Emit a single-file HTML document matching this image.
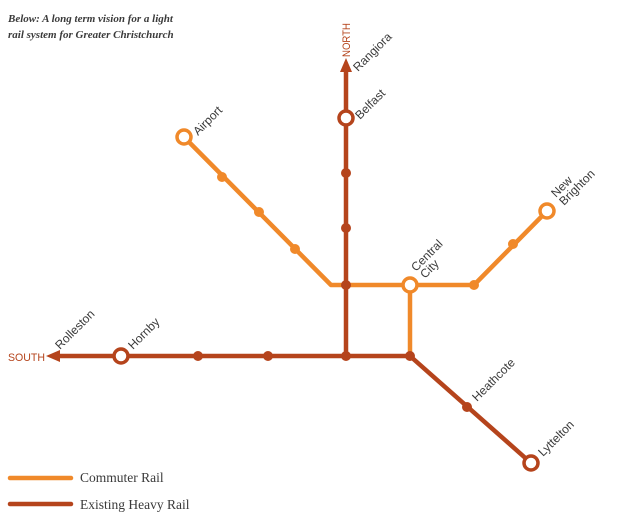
<!DOCTYPE html>
<html><head><meta charset="utf-8"><style>
body{margin:0;background:#fff;}
svg{display:block;}
text{font-family:"Liberation Sans",sans-serif;font-size:12px;fill:#3a3a3a;}
</style></head><body>
<svg width="624" height="519" viewBox="0 0 624 519">
<text x="8" y="22" style="font-family:'Liberation Serif',serif;font-style:italic;font-size:11px;font-weight:bold" fill="#555">Below: A long term vision for a light</text>
<text x="8" y="38" style="font-family:'Liberation Serif',serif;font-style:italic;font-size:11px;font-weight:bold" fill="#555">rail system for Greater Christchurch</text>
<g stroke="#f0892a" stroke-width="4.5" fill="none" stroke-linejoin="round">
<polyline points="184,137 331,285 474,285 547,211"/>
<line x1="410" y1="285" x2="410" y2="356"/>
</g>
<g stroke="#b5441c" stroke-width="4.5" fill="none">
<line x1="346" y1="70" x2="346" y2="356"/>
<line x1="56" y1="356" x2="410" y2="356"/>
<polyline points="410,356 531,463"/>
</g>
<polygon points="346,58 340,72 352,72" fill="#b5441c"/>
<polygon points="46,356 60,350 60,362" fill="#b5441c"/>
<g fill="#f0892a">
<circle cx="222" cy="177" r="5"/><circle cx="259" cy="212" r="5"/><circle cx="295" cy="249" r="5"/>
<circle cx="474" cy="285" r="5"/><circle cx="513" cy="244" r="5"/>
</g>
<g fill="#b5441c">
<circle cx="346" cy="173" r="5"/><circle cx="346" cy="228" r="5"/><circle cx="346" cy="285" r="5"/><circle cx="346" cy="356" r="5"/>
<circle cx="198" cy="356" r="5"/><circle cx="268" cy="356" r="5"/><circle cx="410" cy="356" r="5"/><circle cx="467" cy="407" r="5"/>
</g>
<g fill="#fff" stroke-width="3.5">
<circle cx="184" cy="137" r="7" stroke="#f0892a"/>
<circle cx="410" cy="285" r="7" stroke="#f0892a"/>
<circle cx="547" cy="211" r="7" stroke="#f0892a"/>
<circle cx="346" cy="118" r="7" stroke="#b5441c"/>
<circle cx="121" cy="356" r="7" stroke="#b5441c"/>
<circle cx="531" cy="463" r="7" stroke="#b5441c"/>
</g>
<text transform="translate(198,136) rotate(-45)">Airport</text>
<text transform="translate(358,72) rotate(-45)">Rangiora</text>
<text transform="translate(350,57) rotate(-90)" style="fill:#b5441c;font-size:11px" textLength="34" lengthAdjust="spacingAndGlyphs">NORTH</text>
<text transform="translate(360,120) rotate(-45)">Belfast</text>
<text transform="translate(416,272) rotate(-45)">Central</text>
<text transform="translate(425,279) rotate(-45)">City</text>
<text transform="translate(556,198) rotate(-45)">New</text>
<text transform="translate(564,206) rotate(-45)">Brighton</text>
<text transform="translate(60,350) rotate(-45)">Rolleston</text>
<text x="8" y="361" style="fill:#b5441c;font-size:11px" textLength="37" lengthAdjust="spacingAndGlyphs">SOUTH</text>
<text transform="translate(133,350) rotate(-45)">Hornby</text>
<text transform="translate(477,402) rotate(-45)">Heathcote</text>
<text transform="translate(543,457) rotate(-45)">Lyttelton</text>
<line x1="10" y1="478" x2="71" y2="478" stroke="#f0892a" stroke-width="4.5" stroke-linecap="round"/>
<line x1="10" y1="504" x2="71" y2="504" stroke="#b5441c" stroke-width="4.5" stroke-linecap="round"/>
<text x="80" y="482" style="font-family:'Liberation Serif',serif;font-size:13.5px">Commuter Rail</text>
<text x="80" y="509" style="font-family:'Liberation Serif',serif;font-size:13.5px">Existing Heavy Rail</text>
</svg>
</body></html>
